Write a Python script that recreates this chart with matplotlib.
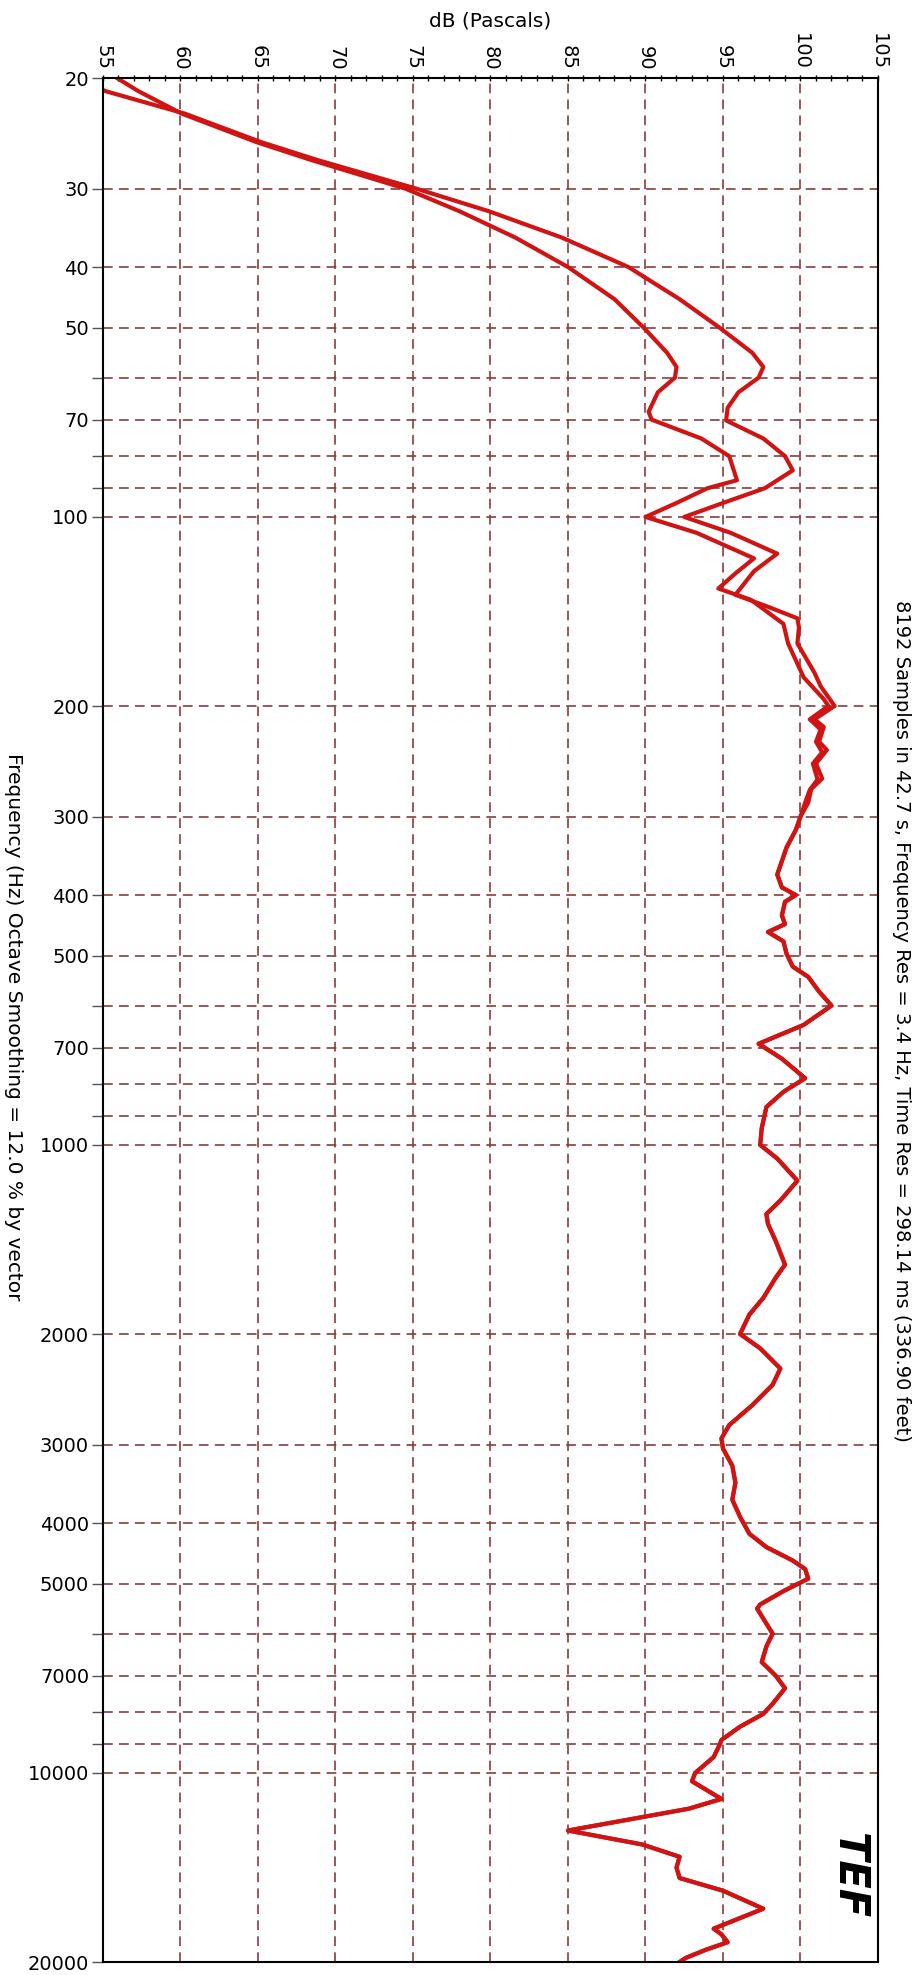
import matplotlib
matplotlib.use("Agg")
import matplotlib.pyplot as plt
from matplotlib.ticker import FixedLocator, FixedFormatter, MultipleLocator

plt.rcParams['font.family'] = ['DejaVu Sans']
plt.rcParams['lines.scale_dashes'] = False

# Frequency axis ticks (Hz) and labels ('' = unlabeled grid line)
freq_ticks = [20, 30, 40, 50, 60, 70, 80, 90, 100,
              200, 300, 400, 500, 600, 700, 800, 900, 1000,
              2000, 3000, 4000, 5000, 6000, 7000, 8000, 9000, 10000, 20000]
freq_labels = ['20', '30', '40', '50', '', '70', '', '', '100',
               '200', '300', '400', '500', '', '700', '', '', '1000',
               '2000', '3000', '4000', '5000', '', '7000', '', '', '10000', '20000']
db_ticks = [55, 60, 65, 70, 75, 80, 85, 90, 95, 100, 105]

# Low-frequency part, trace 1 (outer)
f1_low = [20, 21, 22.8, 25.3, 27, 30, 32.6, 35.9, 40, 45, 50, 54.8, 57.7, 60, 63.3,
          67, 70.2, 75, 80, 84.3, 90, 95, 100, 106, 114.4, 122, 133, 139, 145, 150,
          159, 177, 186, 200, 210, 216, 228, 235, 247, 261, 271, 285]
db1_low = [53.0, 55.2, 60.3, 65.2, 68.8, 75.2, 79.9, 84.6, 88.9, 92.2, 94.8, 96.9, 97.6, 97.3, 96.0,
           95.3, 95.2, 97.6, 99.0, 99.5, 97.7, 95.0, 92.5, 95.5, 98.5, 97.0, 95.8, 97.9, 99.8, 99.9,
           99.8, 100.9, 101.3, 102.2, 100.9, 101.5, 101.2, 101.7, 101.0, 101.4, 100.7, 100.5]

# Low-frequency part, trace 2 (inner)
f2_low = [20, 21, 22.8, 25.3, 27, 30, 32.6, 35.9, 40, 45, 50, 54.8, 57.7, 60, 63.3,
          68, 70, 75, 80, 87.4, 90, 95, 100, 106, 116.4, 123, 130, 135.5, 148, 159,
          180, 195, 200, 210, 218, 228, 237, 247, 262, 272, 285]
db2_low = [55.9, 57.3, 60.1, 64.9, 68.4, 74.5, 78.0, 81.6, 85.0, 88.0, 89.9, 91.4, 92.0, 91.9, 90.8,
           90.2, 90.4, 93.6, 95.4, 95.9, 94.0, 92.0, 90.0, 93.3, 97.0, 95.8, 94.7, 96.8, 98.9, 99.2,
           100.2, 101.5, 101.8, 100.6, 101.3, 101.0, 101.4, 100.8, 101.1, 100.6, 100.3]

# Above ~300 Hz both traces coincide
f_high = [300, 315, 336, 359, 371, 389, 400, 410, 431, 445, 458, 474, 496, 520, 540, 570, 600,
          644, 690, 729, 783, 823, 870, 940, 1000, 1051, 1140, 1226, 1288, 1336, 1422, 1551,
          1627, 1752, 1863, 2000, 2108, 2270, 2410, 2595, 2793, 2933, 3044, 3241, 3450, 3672,
          3909, 4160, 4369, 4590, 4735, 4905, 5134, 5391, 5474, 6000, 6288, 6658, 7000, 7330,
          7760, 8052, 8440, 8860, 9000, 9432, 10000, 10310, 11000, 11400, 12350, 13000, 13600,
          14150, 14700, 15400, 16450, 17700, 18070, 18600, 19120, 19700, 20000]
db_high = [100.0, 99.7, 99.1, 98.7, 98.5, 98.8, 99.7, 99.0, 98.8, 99.0, 97.9, 98.9, 99.1, 99.5, 100.5, 101.2, 102.0,
           100.2, 97.3, 98.8, 100.3, 98.9, 97.8, 97.5, 97.4, 98.5, 99.8, 98.7, 97.8, 97.9, 98.4, 99.0,
           98.4, 97.6, 96.7, 96.1, 97.4, 98.7, 98.2, 96.9, 95.4, 94.9, 95.0, 95.6, 95.8, 95.6,
           96.1, 96.7, 97.8, 99.5, 100.3, 100.5, 98.9, 97.4, 97.2, 98.2, 97.8, 97.5, 98.4, 99.0,
           98.2, 97.6, 96.1, 94.9, 94.8, 94.4, 93.2, 93.0, 94.9, 92.8, 85.0, 89.8, 92.2,
           92.0, 92.2, 95.0, 97.6, 94.4, 94.9, 95.3, 93.9, 92.6, 92.2]

grid_color = '#8a3c3c'
curve_color = '#d01414'

fig = plt.figure(figsize=(9.19, 19.75), dpi=100)
ax = fig.add_axes([103 / 919, 1 - 1962 / 1975, 775 / 919, 1884 / 1975])

# the two measurement traces
ax.plot(db1_low + db_high, f1_low + f_high, color=curve_color, lw=3.0, zorder=3,
        solid_joinstyle='round')
ax.plot(db2_low + db_high, f2_low + f_high, color=curve_color, lw=3.0, zorder=3,
        solid_joinstyle='round')

ax.set_yscale('log')
ax.set_ylim(20000, 20)
ax.set_xlim(55, 105)

ax.yaxis.set_major_locator(FixedLocator(freq_ticks))
ax.yaxis.set_major_formatter(FixedFormatter(freq_labels))
ax.yaxis.set_minor_locator(FixedLocator([]))

ax.xaxis.tick_top()
ax.xaxis.set_label_position('top')
ax.set_xticks(db_ticks)
ax.set_xticklabels([str(v) for v in db_ticks], rotation=-90)
ax.xaxis.set_minor_locator(MultipleLocator(1))

ax.tick_params(axis='y', which='major', length=8, width=1, color='#555555',
               labelsize=14, pad=2, right=False)
ax.tick_params(axis='x', which='major', length=5, width=1, direction='inout',
               labelsize=14, pad=3, bottom=False)
ax.tick_params(axis='x', which='minor', length=5, width=1, direction='inout', bottom=False, top=True)

ax.grid(True, which='major', color=grid_color, lw=1.2, linestyle=(0, (7, 4.5)))

for sp in ax.spines.values():
    sp.set_color('black')
    sp.set_linewidth(1.5)
    sp.set_zorder(4)

ax.set_xlabel('dB (Pascals)', fontsize=14.5, labelpad=5)

fig.text(0.015, 0.48, 'Frequency (Hz) Octave Smoothing = 12.0 % by vector',
         rotation=-90, ha='center', va='center', fontsize=14.5)
fig.text(0.981, 0.483,
         '8192 Samples in 42.7 s, Frequency Res = 3.4 Hz, Time Res = 298.14 ms (336.90 feet)',
         rotation=-90, ha='center', va='center', fontsize=14)

# TEF logo
ax.text(0.962, 0.046, 'TEF', transform=ax.transAxes, rotation=-90, ha='center', va='center',
        fontsize=30, fontweight='heavy', style='italic', color='black')

fig.savefig('out.png', dpi=100)
